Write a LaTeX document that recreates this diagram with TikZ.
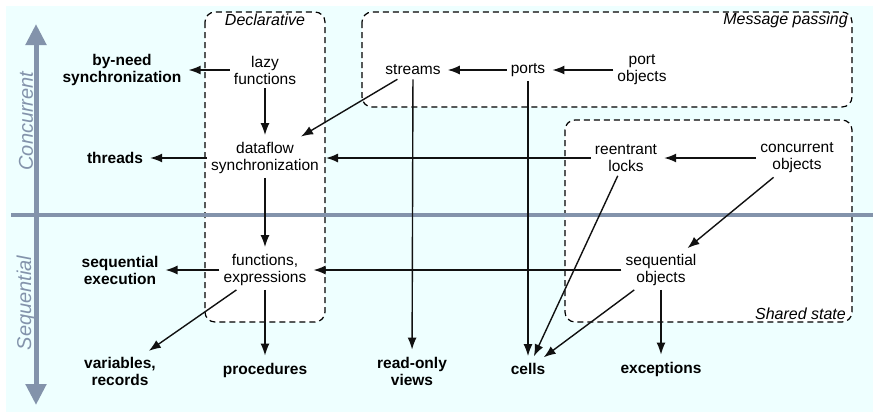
\documentclass[tikz,border=0pt]{standalone}
\usepackage{fontspec}
\setmainfont{Liberation Sans}
\usetikzlibrary{arrows.meta}
\definecolor{bgc}{HTML}{EEFFFF}
\definecolor{axc}{HTML}{8393AB}
\definecolor{lnc}{HTML}{111111}
\tikzset{
  nd/.style={inner sep=4pt, align=center, font=\fontsize{15.5}{17}\selectfont, text=black},
  bnd/.style={nd, font=\fontsize{15.5}{17}\selectfont\bfseries},
  conn/.style={draw=lnc, line width=1.4pt, -{Latex[length=12pt,width=9pt]}, shorten >=3pt},
  grp/.style={draw=black, line width=1.2pt, dash pattern=on 6pt off 4pt, rounded corners=10pt, fill=white},
  grplabel/.style={font=\fontsize{16}{18}\selectfont\itshape},
  axlabel/.style={font=\fontsize{20}{22}\selectfont\itshape, text=axc, rotate=90}
}
\begin{document}
\begin{tikzpicture}[x=1pt,y=-1pt]
\useasboundingbox (0,0) rectangle (873,416);
\fill[bgc] (6,6) rectangle (873,412);
% groups
\draw[grp] (205,12) rectangle (325,322);
\draw[grp] (362,12) rectangle (852,107);
\draw[grp] (565,120) rectangle (852,322);
\node[grplabel, anchor=center] (lDecl) at (265,20) {Declarative};
\node[grplabel, anchor=east, inner sep=0pt] (lMsg) at (848,20) {Message passing};
\node[grplabel, anchor=east, inner sep=0pt] (lSh) at (846,314) {Shared state};
% axes
\draw[axc, line width=4pt] (11,215) -- (873,215);
\coordinate (axtop) at (36,24);
\coordinate (axbot) at (36,405);
\draw[axc, line width=5pt, {Triangle[length=21pt,width=20pt]}-{Triangle[length=21pt,width=20pt]}] (axtop) -- (axbot);
\node[axlabel] (lconc) at (26,121) {Concurrent};
\node[axlabel] (lseq) at (26,303) {Sequential};
% nodes
\node[bnd] (byneed) at (122,70) {by-need\\synchronization};
\node[nd] (lazy) at (265,70) {lazy\\functions};
\node[nd] (streams) at (413,70) {streams};
\node[nd] (ports) at (528,70) {ports};
\node[nd] (portobj) at (642,70) {port\\objects};
\node[bnd] (threads) at (115,158) {threads};
\node[nd] (dataflow) at (265,158) {dataflow\\synchronization};
\node[nd] (reent) at (626,158) {reentrant\\locks};
\node[nd] (concobj) at (797,158) {concurrent\\objects};
\node[bnd] (seqexec) at (120,270) {sequential\\execution};
\node[nd] (funcs) at (265,270) {functions,\\expressions};
\node[nd] (seqobj) at (661,270) {sequential\\objects};
\node[bnd] (vars) at (120,371) {variables,\\records};
\node[bnd] (procs) at (265,370) {procedures};
\node[bnd] (rov) at (412,371) {read-only\\views};
\node[bnd] (cells) at (528,369) {cells};
\node[bnd] (exc) at (661,369) {exceptions};
% connectors
\draw[conn] (lazy) -- (byneed);
\draw[conn] (lazy) -- (dataflow);
\draw[conn] (streams) -- (dataflow);
\draw[conn] (ports) -- (streams);
\draw[conn] (portobj) -- (ports);
\draw[conn] (streams) -- (rov);
\draw[conn] (ports) -- (cells);
\draw[conn] (dataflow) -- (threads);
\draw[conn] (reent) -- (dataflow);
\draw[conn] (concobj) -- (reent);
\draw[conn] (concobj) -- (seqobj);
\draw[conn] (reent) -- (cells);
\draw[conn] (dataflow) -- (funcs);
\draw[conn] (funcs) -- (seqexec);
\draw[conn] (seqobj) -- (funcs);
\draw[conn] (funcs) -- (vars);
\draw[conn] (funcs) -- (procs);
\draw[conn] (seqobj) -- (cells);
\draw[conn] (seqobj) -- (exc);
\end{tikzpicture}
\end{document}
